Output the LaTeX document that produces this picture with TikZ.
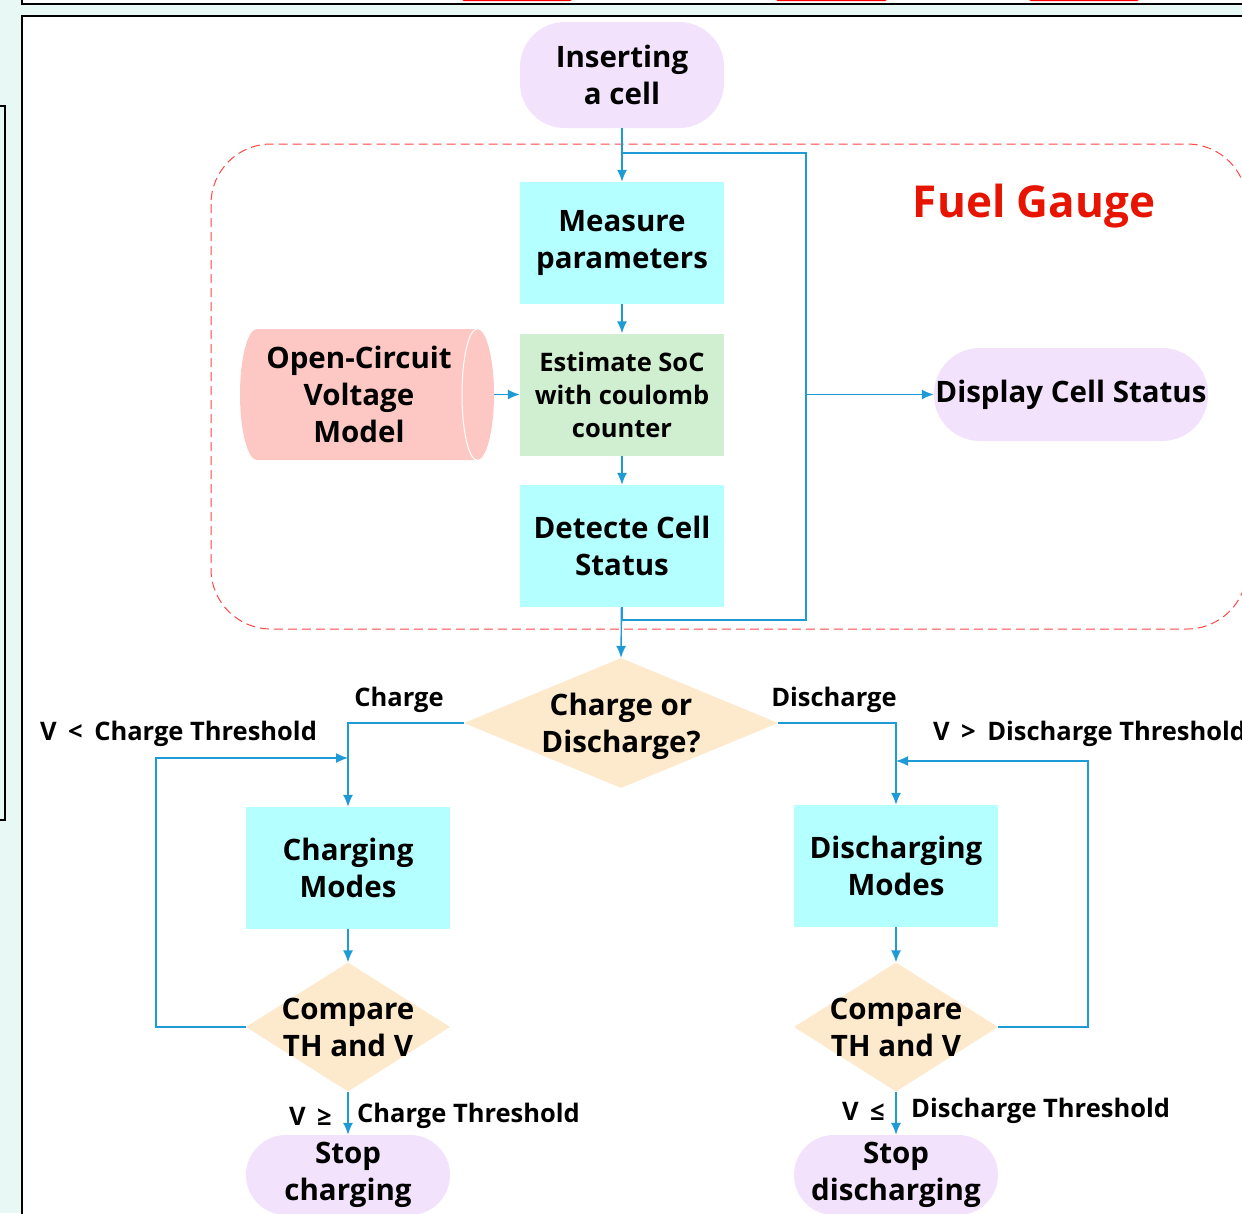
\documentclass[tikz,border=0pt]{standalone}
\usepackage{fontspec}
\setmainfont{Open Sans}
\usetikzlibrary{shapes.geometric,arrows.meta}

\definecolor{bgteal}{RGB}{232,248,245}
\definecolor{proccyan}{RGB}{180,255,255}
\definecolor{estgreen}{RGB}{208,238,208}
\definecolor{termlav}{RGB}{242,226,252}
\definecolor{decpeach}{RGB}{253,233,204}
\definecolor{ocvpink}{RGB}{253,200,195}
\definecolor{flowblue}{RGB}{30,155,215}
\definecolor{gaugered}{RGB}{255,70,70}
\definecolor{titlered}{RGB}{230,20,0}

\newcommand{\boxfont}{\fontsize{29.5}{37}\selectfont\bfseries}
\newcommand{\estfont}{\fontsize{25.5}{33}\selectfont\bfseries}
\newcommand{\lblfont}{\fontsize{25.5}{30}\selectfont\bfseries}

\tikzstyle{proc}=[rectangle, fill=proccyan, minimum width=204pt, minimum height=122pt, inner sep=0pt, align=center, font=\boxfont]
\tikzstyle{term}=[rectangle, rounded corners=40pt, fill=termlav, minimum width=204pt, inner sep=0pt, align=center, font=\boxfont]
\tikzstyle{decision}=[diamond, fill=decpeach, inner sep=0pt]
\tikzstyle{dectext}=[inner sep=0pt, align=center, font=\boxfont]
\tikzstyle{lbl}=[inner sep=0pt, font=\lblfont]
\tikzstyle{frame}=[draw=black, line width=1.8pt]
\tikzstyle{gauge}=[draw=gaugered, line width=1pt, dash pattern=on 9pt off 5pt, rounded corners=60pt]
\tikzstyle{wire}=[draw=flowblue, line width=1.4pt]
\tikzstyle{dep}=[-{Latex[length=12pt, width=10pt]}, draw=flowblue, line width=1.4pt]

\begin{document}
\begin{tikzpicture}[x=1pt, y=-1pt]
  \useasboundingbox (0,0) rectangle (1242,1213);
  \clip (0,0) rectangle (1242,1213);

  % window around the chart
  \fill[bgteal] (0,0) rectangle (1242,1213);
  \draw[frame, fill=white] (22,-20) rectangle (1260,4);
  \foreach \a/\b in {462/572, 776/887, 1029/1139} {%
    \fill[red, rounded corners=2pt] (\a,-8) rectangle (\b,1);
  }
  \draw[frame] (-20,106) rectangle (5,820);
  \draw[frame, fill=white] (22,16) rectangle (1260,1240);

  % fuel gauge block
  \draw[gauge] (211,144) rectangle (1247,629);
  \node[inner sep=0pt, font=\fontsize{44}{50}\selectfont\bfseries, text=titlered] (title) at (1034,206) {Fuel Gauge};

  % open-circuit voltage model (sideways cylinder)
  \fill[ocvpink] (257,329) -- (477,329) arc[start angle=-90, end angle=90, x radius=17, y radius=65.5]
    -- (257,460) arc[start angle=90, end angle=270, x radius=17, y radius=65.5] -- cycle;
  \draw[white, line width=1pt] (477,329) arc[start angle=270, end angle=90, x radius=15, y radius=65.5];
  \node[inner sep=0pt, minimum width=270pt, minimum height=131pt, align=center, font=\boxfont] (ocv) at (359,394.5) {Open-Circuit\\Voltage\\Model};

  \node[term, minimum height=106pt, rounded corners=45pt] (insert) at (622,75) {Inserting\\a cell};
  \node[proc] (measure) at (622,243) {Measure\\parameters};
  \node[proc, fill=estgreen, font=\estfont] (estimate) at (622,394.5) {Estimate SoC\\with coulomb\\counter};
  \node[proc] (detect) at (622,546) {Detecte Cell\\Status};
  \node[term, minimum width=274pt, minimum height=93pt, rounded corners=46pt] (display) at (1071,394.5) {Display Cell Status};

  \node[decision, minimum width=314pt, minimum height=130pt] (dec) at (621,723) {};
  \node[dectext] (dectxt) at (621,726) {Charge or\\Discharge?};

  \node[proc] (chgmodes) at (348,868) {Charging\\Modes};
  \node[proc] (dismodes) at (896,866) {Discharging\\Modes};

  \node[decision, minimum width=204pt, minimum height=129pt] (cmpL) at (348,1027) {};
  \node[dectext] (cmpLtxt) at (cmpL) {Compare\\TH and V};
  \node[decision, minimum width=204pt, minimum height=129pt] (cmpR) at (896,1027) {};
  \node[dectext] (cmpRtxt) at (cmpR) {Compare\\TH and V};

  \node[term, minimum height=80pt] (stopc) at (348,1175) {Stop\\charging};
  \node[term, minimum height=80pt] (stopd) at (896,1175) {Stop\\discharging};

  % labels
  \node[lbl] (lchg) at (399,700) {Charge};
  \node[lbl] (ldis) at (834,700) {Discharge};
  \node[lbl, anchor=west] (lcl) at (40,734) {V\hspace{0.45em}<\hspace{0.45em}Charge Threshold};
  \node[lbl, anchor=west] (ldl) at (933,734) {V\hspace{0.45em}>\hspace{0.45em}Discharge Threshold};
  \node[lbl, anchor=east] (lcs1) at (332,1116) {V\hspace{0.45em}≥};
  \node[lbl, anchor=west] (lcs2) at (357,1116) {Charge Threshold};
  \node[lbl, anchor=east] (lds1) at (885,1111) {V\hspace{0.45em}≤};
  \node[lbl, anchor=west] (lds2) at (911,1111) {Discharge Threshold};

  % connectors
  \coordinate (loopB) at (806,620);
  \coordinate (loopT) at (806,153);
  \coordinate (retL) at (156,758);
  \coordinate (retR) at (1088,761);

  \draw[dep] (insert) -- (measure);
  \draw[dep] (measure) -- (estimate);
  \draw[dep] (estimate) -- (detect);
  \draw[dep] (ocv.east) -- (estimate.west);
  \draw[wire] (detect.south) |- (loopB) -- (loopT) -- (insert.south |- loopT);
  \draw[dep] (loopB |- display) -- (display.west);
  \draw[dep] (detect) -- (dec.north);
  \draw[dep] (dec.west) -| (chgmodes.north);
  \draw[dep] (dec.east) -| (dismodes.north);
  \draw[dep] (chgmodes) -- (cmpL.north);
  \draw[dep] (dismodes) -- (cmpR.north);
  \draw[dep] (cmpL.west) -| (retL) -- (retL -| chgmodes);
  \draw[dep] (cmpR.east) -| (retR) -- (retR -| dismodes);
  \draw[dep] (cmpL.south) -- (stopc);
  \draw[dep] (cmpR.south) -- (stopd);
\end{tikzpicture}
\end{document}
